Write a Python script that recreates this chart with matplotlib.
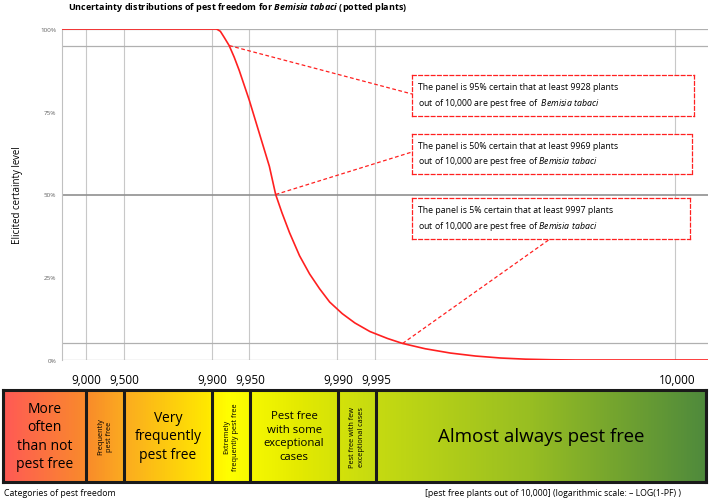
import numpy as np
import matplotlib
matplotlib.use("Agg")
import matplotlib.pyplot as plt
from matplotlib.colors import LinearSegmentedColormap

plt.rcParams['font.family'] = 'Open Sans'
plt.rcParams['mathtext.fontset'] = 'custom'
plt.rcParams['mathtext.it'] = 'Open Sans:italic'
plt.rcParams['mathtext.bf'] = 'Open Sans:bold:italic'

# curve: x = -log10(1 - pest freedom), y = certainty (%)
curve_t = [0.81, 2.04, 2.07, 2.10, 2.14, 2.18, 2.22, 2.26, 2.30, 2.34, 2.38, 2.42, 2.46, 2.51, 2.56, 2.62, 2.70,
           2.78, 2.86, 2.94, 3.04, 3.14, 3.26, 3.40, 3.52, 3.70, 3.90, 4.10, 4.30, 4.50, 4.70, 4.90, 5.95]
curve_y = [100, 100, 99.3, 97.5, 95, 91.5, 87.5, 83, 78.5, 73.5, 68.5, 63.5, 58.5, 50, 44.5, 38.5, 31.5,
           26, 21.5, 17.5, 14, 11.2, 8.6, 6.5, 5, 3.4, 2.1, 1.2, 0.6, 0.25, 0.08, 0, 0]

tick_vals = ["9,000", "9,500", "9,900", "9,950", "9,990", "9,995", "10,000"]
tick_t = [1.0, 1.301, 2.0, 2.301, 3.0, 3.301, 5.69]

cat_labels = ["More\noften\nthan not\npest free", "Frequently\npest free", "Very\nfrequently\npest free",
              "Extremely\nfrequently pest free", "Pest free\nwith some\nexceptional\ncases",
              "Pest free with few\nexceptional cases", "Almost always pest free"]
cat_bounds = [0.34, 1.0, 1.301, 2.0, 2.301, 3.0, 3.301, 5.92]
cat_sizes = [10, 5.3, 10, 5.3, 8.2, 5.3, 13.5]
cat_rot = [0, 90, 0, 90, 0, 90, 0]

ann_text = [r"The panel is 95% certain that at least 9928 plants" "\n" r"out of 10,000 are pest free of  $\it{Bemisia\ tabaci}$",
            r"The panel is 50% certain that at least 9969 plants" "\n" r"out of 10,000 are pest free of $\it{Bemisia\ tabaci}$",
            r"The panel is 5% certain that at least 9997 plants" "\n" r"out of 10,000 are pest free of $\it{Bemisia\ tabaci}$"]
ann_pt = [(2.14, 95), (2.51, 50), (3.52, 5)]

W, H = 709, 502
fig = plt.figure(figsize=(W/100, H/100), dpi=100)
def rect(l, t, r, b):
    return [l/W, 1-b/H, (r-l)/W, (b-t)/H]

ax = fig.add_axes(rect(62, 30, 708, 361))
ax.set_xlim(0.81, 5.95)
ax.set_ylim(0, 100)
for t in tick_t:
    ax.axvline(t, color='#c8c8c8', lw=0.8, zorder=1)
for yv, c in [(95, '#b0b0b0'), (50, '#909090'), (5, '#b0b0b0'), (0, '#b0b0b0'), (100, '#b0b0b0')]:
    ax.axhline(yv, color=c, lw=0.9 if yv != 50 else 1.2, zorder=1)
ax.plot(curve_t, curve_y, color='#ff2020', lw=1.2, zorder=3)
for s in ['top', 'right', 'bottom']:
    ax.spines[s].set_visible(False)
ax.spines['left'].set_color('#c0c0c0')
ax.set_xticks([])
ax.set_yticks([0, 25, 50, 75, 100])
ax.set_yticklabels(["0%", "25%", "50%", "75%", "100%"], fontsize=4.5, color='#606060')
ax.tick_params(axis='y', length=0, pad=4)
fig.text(18/W, 1-195/H, "Elicited certainty level", rotation=90, va='center', ha='center', fontsize=7)
fig.text(68/W, 1-8/H, r"Uncertainty distributions of pest freedom for $\bf{Bemisia\ tabaci}$ (potted plants)",
         fontsize=6.5, fontweight='bold', va='center')

# annotation boxes
boxes = [(412, 76, 694, 117), (412, 135, 692, 175), (412, 199, 690, 240)]
ends = [(412, 95), (412, 153), (550, 240)]
inv = ax.transData.inverted()
for (l, t, r, b), txt, pt, e in zip(boxes, ann_text, ann_pt, ends):
    ba = fig.add_axes(rect(l, t, r, b))
    ba.set_xticks([]); ba.set_yticks([])
    ba.patch.set_facecolor('white')
    for s in ba.spines.values():
        s.set_color('#ff2020'); s.set_linestyle((0, (3, 2))); s.set_linewidth(0.9)
    ba.text(0.02, 0.5, txt, fontsize=6.3, va='center', ha='left', linespacing=1.5, transform=ba.transAxes)
    ex, ey = inv.transform((e[0], H - e[1]))
    ax.plot([pt[0], ex], [pt[1], ey], color='#ff2020', lw=0.9, ls=(0, (3, 2)), zorder=3, clip_on=False)

# category bar
bx = fig.add_axes(rect(3, 391, 706, 483))
bx.set_xlim(cat_bounds[0], cat_bounds[-1])
bx.set_ylim(0, 1)
cmap = LinearSegmentedColormap.from_list('pf', [(0, '#ff5a55'), (0.12, '#f98c2a'), (0.17, '#fbaa20'),
                                               (0.29, '#ffe800'), (0.32, '#ffff00'), (0.42, '#e4ea00'),
                                               (0.52, '#c8dc10'), (0.75, '#98be22'), (1, '#4f8a3c')])
grad = np.linspace(0, 1, 512).reshape(1, -1)
bx.imshow(grad, aspect='auto', cmap=cmap, extent=[cat_bounds[0], cat_bounds[-1], 0, 1], zorder=0)
for b in cat_bounds:
    bx.axvline(b, color='#1a1a1a', lw=2.2)
for i, lab in enumerate(cat_labels):
    c = (cat_bounds[i] + cat_bounds[i+1]) / 2
    bx.text(c, 0.5, lab, ha='center', va='center', fontsize=cat_sizes[i], rotation=cat_rot[i], linespacing=1.3)
for s in bx.spines.values():
    s.set_linewidth(2.2); s.set_color('#1a1a1a')
bx.set_yticks([])
bx.xaxis.tick_top()
bx.set_xticks(tick_t)
bx.set_xticklabels(tick_vals, fontsize=8.5)
bx.tick_params(axis='x', length=0, pad=3)
fig.text(4/W, 1-494/H, "Categories of pest freedom", fontsize=6.3, va='center')
fig.text(425/W, 1-494/H, "[pest free plants out of 10,000] (logarithmic scale: \u2013 LOG(1-PF) )", fontsize=6.3, va='center')

fig.savefig("out.png", dpi=100)
